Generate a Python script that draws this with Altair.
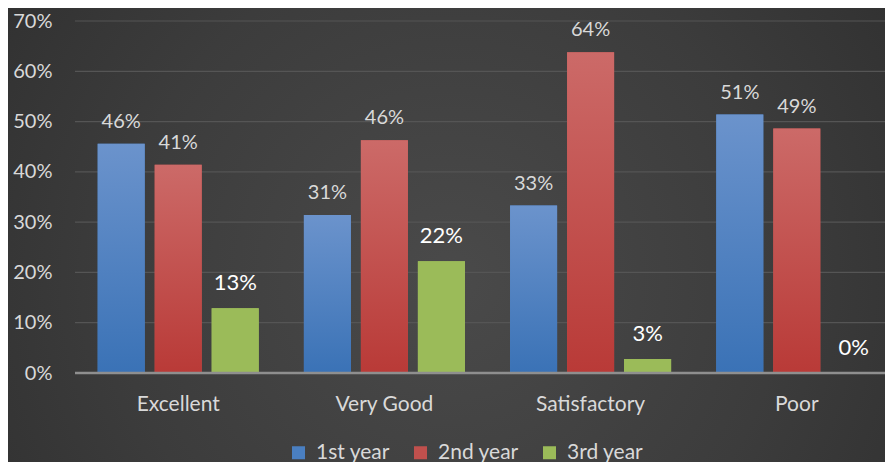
import altair as alt
import pandas as pd

categories = ["Excellent", "Very Good", "Satisfactory", "Poor"]
series = ["1st year", "2nd year", "3rd year"]
first_year = [45.6, 31.4, 33.3, 51.4]
second_year = [41.4, 46.3, 63.8, 48.6]
third_year = [12.9, 22.2, 2.8, 0.0]
y_ticks = [0, 10, 20, 30, 40, 50, 60, 70]

legend_colors = ["#4a7fc1", "#c0504d", "#9bbb59"]
FONT = "Lato"
LABEL = "#d9d9d9"

rows = []
for i, c in enumerate(categories):
    for s, vals in zip(series, [first_year, second_year, third_year]):
        rows.append({"category": c, "series": s, "value": vals[i]})
df = pd.DataFrame(rows)
ticks_df = pd.DataFrame({"tick": y_ticks})

x_enc = alt.X(
    "category:N", sort=categories,
    scale=alt.Scale(range=[0, 825], paddingInner=0.219, paddingOuter=0.11),
    axis=alt.Axis(title=None, labelAngle=0, domain=False, ticks=False, grid=False,
                  labelPadding=20, labelFontSize=21, labelColor=LABEL, labelFont=FONT,
                  zindex=1),
)
xo_enc = alt.XOffset("series:N", sort=series,
                     scale=alt.Scale(domain=series, paddingInner=0.175, paddingOuter=0))
y_enc = alt.Y(
    "value:Q", scale=alt.Scale(domain=[0, 70], nice=False),
    axis=alt.Axis(title=None, values=y_ticks, labelExpr="datum.value + '%'",
                  grid=False, domain=False, ticks=False, labelPadding=23,
                  labelFontSize=20, labelColor=LABEL, labelFont=FONT, zindex=1),
)

bg = alt.Chart(alt.Data(values=[{}])).mark_rect(
    color=alt.RadialGradient(
        gradient="radial",
        stops=[alt.GradientStop(color="#4a4a4a", offset=0),
               alt.GradientStop(color="#3c3c3c", offset=0.5),
               alt.GradientStop(color="#2a2a2a", offset=1)],
        x1=0.5, y1=0.55, r1=0, x2=0.5, y2=0.55, r2=0.75,
    )
).encode(x=alt.value(-67), x2=alt.value(818), y=alt.value(-13), y2=alt.value(441))

grid = alt.Chart(ticks_df).transform_filter(alt.datum.tick > 0).mark_rule(
    color="#555555", strokeWidth=1.2
).encode(y=alt.Y("tick:Q"))

zero = alt.Chart(ticks_df).transform_filter(alt.datum.tick == 0).mark_rule(
    color="#8f8f8f", strokeWidth=2.5
).encode(y=alt.Y("tick:Q"))

base = alt.Chart(df)

bars = base.mark_bar().encode(
    x=x_enc, xOffset=xo_enc, y=y_enc,
    color=alt.Color("series:N", scale=alt.Scale(domain=series, range=legend_colors),
                    legend=alt.Legend(
                        title=None, orient="none", legendX=213, legendY=421,
                        direction="horizontal", symbolType="square", symbolSize=169,
                        symbolStrokeWidth=0, labelFontSize=21, labelColor=LABEL,
                        labelFont=FONT, columnPadding=20, labelOffset=7, padding=0)),
)

grads = {
    "1st year": ("#6b93cc", "#3a72b6"),
    "2nd year": ("#cc6a68", "#b93a37"),
    "3rd year": ("#9bbb59", "#9bbb59"),
}
overlays = []
for s in series:
    top, bottom = grads[s]
    overlays.append(
        base.transform_filter(alt.datum.series == s).mark_bar(
            color=alt.LinearGradient(
                gradient="linear",
                stops=[alt.GradientStop(color=top, offset=0),
                       alt.GradientStop(color=bottom, offset=1)],
                x1=0, x2=0, y1=0, y2=1,
            )
        ).encode(x=x_enc, xOffset=xo_enc, y=y_enc)
    )

labelled = base.transform_calculate(label="format(datum.value, '.0f') + '%'")
text12 = labelled.transform_filter(alt.datum.series != "3rd year").mark_text(
    baseline="alphabetic", dy=-16, fontSize=20, color=LABEL, font=FONT
).encode(x=x_enc, xOffset=xo_enc, y=y_enc, text="label:N")
text3 = labelled.transform_filter(alt.datum.series == "3rd year").mark_text(
    baseline="alphabetic", dy=-18, fontSize=22, color="#ffffff", font=FONT
).encode(x=x_enc, xOffset=xo_enc, y=y_enc, text="label:N")

chart = alt.layer(bg, grid, bars, *overlays, zero, text12, text3).properties(
    width=810, height=352,
    padding={"left": 67, "top": 13, "right": 0, "bottom": 89},
    autosize="none",
    background="#333333",
).configure_view(stroke=None)

chart.save("out.html", embed_options={"renderer": "svg", "actions": False})
